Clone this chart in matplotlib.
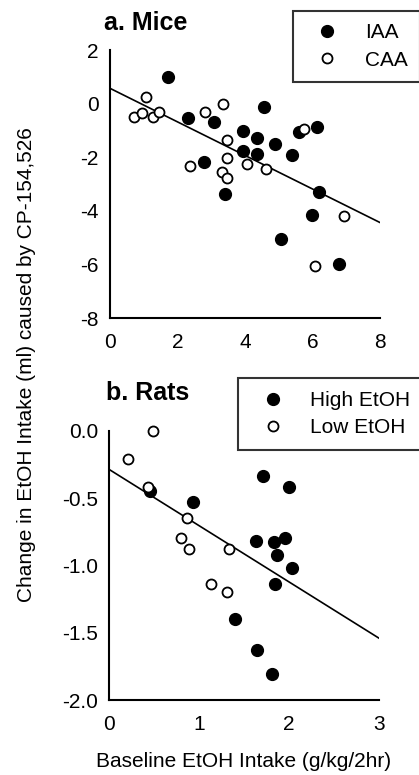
import matplotlib
matplotlib.use("Agg")
import matplotlib.pyplot as plt
import numpy as np

plt.rcParams['font.family'] = ['Liberation Sans', 'DejaVu Sans']

# a. Mice
mice_iaa_x = [1.71, 2.30, 3.09, 4.56, 3.93, 4.36, 4.89, 3.93, 4.36, 5.38, 2.79, 6.12, 5.61, 3.42, 6.20, 5.99, 5.07, 6.78]
mice_iaa_y = [0.98, -0.53, -0.70, -0.14, -1.03, -1.30, -1.52, -1.77, -1.88, -1.93, -2.19, -0.86, -1.06, -3.37, -3.31, -4.14, -5.06, -5.99]
mice_caa_x = [1.06, 0.72, 0.94, 1.26, 1.46, 2.81, 3.36, 3.46, 3.46, 2.37, 4.05, 4.62, 3.32, 3.46, 5.75, 6.93, 6.06]
mice_caa_y = [0.23, -0.51, -0.34, -0.51, -0.33, -0.33, -0.01, -1.36, -2.02, -2.32, -2.25, -2.44, -2.54, -2.79, -0.96, -4.19, -6.06]
mice_fit = (-0.626, 0.57)  # slope, intercept
mice_xticks = [0, 2, 4, 6, 8]
mice_yticks = [-8, -6, -4, -2, 0, 2]

# b. Rats
rats_high_x = [0.46, 0.93, 1.71, 2.00, 1.63, 1.83, 1.96, 1.87, 2.03, 1.84, 1.40, 1.64, 1.81]
rats_high_y = [-0.45, -0.53, -0.34, -0.42, -0.82, -0.83, -0.80, -0.92, -1.02, -1.14, -1.40, -1.63, -1.81]
rats_low_x = [0.49, 0.21, 0.43, 0.87, 0.80, 0.89, 1.33, 1.13, 1.31]
rats_low_y = [0.00, -0.21, -0.42, -0.65, -0.80, -0.88, -0.88, -1.14, -1.20]
rats_fit = (-0.418, -0.287)
rats_xticks = [0, 1, 2, 3]
rats_yticks = [-2.0, -1.5, -1.0, -0.5, 0.0]

W, H = 419, 775
FS = 15
fig = plt.figure(figsize=(W / 100, H / 100), dpi=100)


def px_axes(l, t, r, b):
    return fig.add_axes([l / W, 1 - b / H, (r - l) / W, (b - t) / H])


def style(ax, xticks, yticks, yfmt):
    for s in ['top', 'right']:
        ax.spines[s].set_visible(False)
    for s in ['left', 'bottom']:
        ax.spines[s].set_linewidth(1.5)
    ax.set_xticks(xticks)
    ax.set_yticks(yticks)
    ax.set_xlim(xticks[0], xticks[-1])
    ax.set_ylim(yticks[0], yticks[-1])
    ax.set_yticklabels([yfmt.format(v) for v in yticks])
    ax.tick_params(axis='both', length=0, labelsize=FS)
    ax.tick_params(axis='x', pad=11)
    ax.tick_params(axis='y', pad=8)


def panel(ax, fx, fy, ox, oy, fit, xmax, labels, leg_pos):
    ax.plot(fx, fy, 'o', color='black', markersize=8.5, clip_on=False, label=labels[0], zorder=3)
    ax.plot(ox, oy, 'o', markerfacecolor='white', markeredgecolor='black',
            markeredgewidth=1.3, markersize=7.2, clip_on=False, label=labels[1], zorder=4)
    xs = np.array([0, xmax])
    ax.plot(xs, fit[0] * xs + fit[1], color='black', linewidth=1.2, zorder=2)
    leg = ax.legend(loc='upper left', bbox_to_anchor=leg_pos, bbox_transform=fig.transFigure,
                    fontsize=FS, numpoints=1, frameon=True, fancybox=False,
                    borderpad=0.6, handlelength=2.1, handletextpad=0.75, labelspacing=0.4,
                    borderaxespad=0)
    leg.get_frame().set_edgecolor('black')
    leg.get_frame().set_linewidth(1.5)


ax1 = px_axes(110, 50, 380, 318)
panel(ax1, mice_iaa_x, mice_iaa_y, mice_caa_x, mice_caa_y, mice_fit, 8,
      ['IAA', 'CAA'], (293 / W, 1 - 10.7 / H))
style(ax1, mice_xticks, mice_yticks, '{:.0f}')

ax2 = px_axes(109, 430.7, 379, 700)
panel(ax2, rats_high_x, rats_high_y, rats_low_x, rats_low_y, rats_fit, 3,
      ['High EtOH', 'Low EtOH'], (238.3 / W, 1 - 378.3 / H))
style(ax2, rats_xticks, rats_yticks, '{:.1f}')

fig.text(104 / W, 1 - 30 / H, 'a. Mice', fontsize=18, fontweight='bold', va='baseline')
fig.text(106 / W, 1 - 400.5 / H, 'b. Rats', fontsize=18, fontweight='bold', va='baseline')
fig.text(244 / W, 1 - 767 / H, 'Baseline EtOH Intake (g/kg/2hr)', fontsize=FS,
         ha='center', va='baseline')
fig.text(27 / W, 1 - 365 / H, 'Change in EtOH Intake (ml) caused by CP-154,526', fontsize=FS,
         rotation=90, ha='center', va='center')

fig.savefig('out.png', dpi=100)
